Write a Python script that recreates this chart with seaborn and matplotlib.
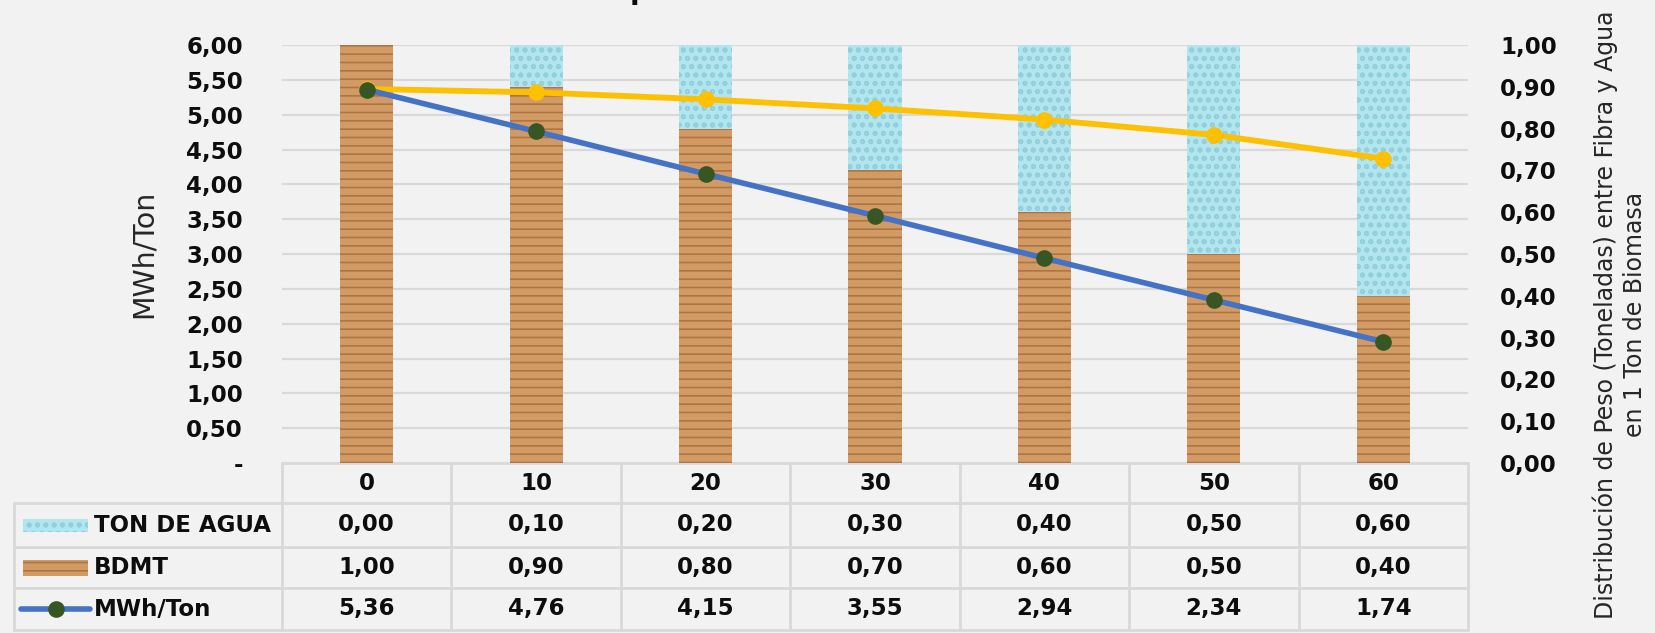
import numpy as np
import matplotlib
matplotlib.use('Agg')
from matplotlib import pyplot as plt
from matplotlib.patches import Rectangle
from matplotlib.lines import Line2D
from matplotlib.ticker import FixedLocator, FuncFormatter
import matplotlib.transforms as mtransforms
import seaborn as sns

categories = ['0', '10', '20', '30', '40', '50', '60']
ton_agua = [0.00, 0.10, 0.20, 0.30, 0.40, 0.50, 0.60]
bdmt = [1.00, 0.90, 0.80, 0.70, 0.60, 0.50, 0.40]
mwh_ton = [5.36, 4.76, 4.15, 3.55, 2.94, 2.34, 1.74]
# yellow series has no row in the table
mwh_ton_b = [5.37, 5.32, 5.22, 5.09, 4.93, 4.71, 4.37]

row_names = ['TON DE AGUA', 'BDMT', 'MWh/Ton']
title = 'por contenido de Humedad'
left_label = 'MWh/Ton'
right_label = 'Distribución de Peso (Toneladas) entre Fibra y Agua\nen 1 Ton de Biomasa'

BG = '#F2F2F2'
GRID = '#D9D9D9'
WOOD = '#D29B66'
WOOD_HATCH = '#B07444'
WATER = '#B3E5EE'
WATER_HATCH = '#92CFDB'
BLUE = '#4472C4'
GREEN = '#375623'
GOLD = '#FFC000'
FS = 16.5


def fmt(v):
    return f'{v:.2f}'.replace('.', ',')


sns.set_theme(style='white')
plt.rcParams['font.family'] = ['DejaVu Sans']
plt.rcParams['hatch.linewidth'] = 1.2

W, H = 1655, 633
fig = plt.figure(figsize=(W / 100, H / 100), dpi=100, facecolor=BG)
# plot box in pixels: x 282..1468, y 45..463
ax = fig.add_axes([282 / W, 1 - 463 / H, (1468 - 282) / W, (463 - 45) / H])
ax.patch.set_visible(False)

# left axis: gridlines + ticks only
ax.set_ylim(0, 6)
ax.yaxis.set_major_locator(FixedLocator(np.arange(0, 6.01, 0.5)))
ax.yaxis.set_major_formatter(FuncFormatter(lambda v, p: '-' if abs(v) < 1e-9 else fmt(v)))
ax.grid(axis='y', color=GRID, lw=1.6)
ax.tick_params(axis='y', length=0, pad=28, labelsize=FS)
ax.tick_params(axis='x', length=0, labelbottom=False)
ax.set_ylabel(left_label, fontsize=20.5)
ax.yaxis.set_label_coords((158 - 282) / 1186, 0.5)

# bars on the right axis (0..1)
ax2 = ax.twinx()
totals = [a + b for a, b in zip(ton_agua, bdmt)]
sns.barplot(x=categories, y=totals, ax=ax2, color=WATER, saturation=1, width=0.313,
            hatch='oo', edgecolor=WATER_HATCH, linewidth=0)
sns.barplot(x=categories, y=bdmt, ax=ax2, color=WOOD, saturation=1, width=0.313,
            hatch='--', edgecolor=WOOD_HATCH, linewidth=0)
ax2.set_ylim(0, 1)
ax2.yaxis.set_major_locator(FixedLocator(np.arange(0, 1.001, 0.1)))
ax2.yaxis.set_major_formatter(FuncFormatter(lambda v, p: fmt(v)))
ax2.tick_params(axis='y', length=0, pad=23, labelsize=FS)
ax2.tick_params(axis='x', length=0, labelbottom=False)
ax2.set_xlabel('')
ax2.set_ylabel(right_label, fontsize=17, linespacing=1.27)
ax2.yaxis.set_label_coords((1592 - 282) / 1186, 0.355)

# lines on a third layer sharing the left scale
ax3 = ax.twinx()
sns.lineplot(x=np.arange(len(categories)), y=mwh_ton_b, ax=ax3, color=GOLD, lw=4.2,
             marker='o', markersize=12, markeredgewidth=0, markerfacecolor=GOLD)
sns.lineplot(x=np.arange(len(categories)), y=mwh_ton, ax=ax3, color=BLUE, lw=4,
             marker='o', markersize=12, markeredgewidth=0, markerfacecolor=GREEN)
ax3.set_ylim(0, 6)
ax3.set_yticks([])
ax3.set_ylabel('')
ax3.tick_params(axis='x', length=0, labelbottom=False)

for a in (ax, ax2, ax3):
    for s in a.spines.values():
        s.set_visible(False)
ax.set_xlim(-0.5, len(categories) - 0.5)

for lab in ax.get_yticklabels() + ax2.get_yticklabels():
    lab.set_fontweight('bold')
    lab.set_color('#0D0D0D')

# data table under the plot
trans = mtransforms.blended_transform_factory(ax.transData, ax.transAxes)
px_x = 1186 / len(categories)
row_px = [463, 503, 547, 588, 630]
row_y = [(463 - p) / 418 for p in row_px]
x_left = -0.5 - (282 - 14) / px_x
x_right = len(categories) - 0.5


def hline(x0, x1, y):
    ax.add_line(Line2D([x0, x1], [y, y], transform=trans, color=GRID, lw=2, clip_on=False))


def vline(x, y0, y1):
    ax.add_line(Line2D([x, x], [y0, y1], transform=trans, color=GRID, lw=2, clip_on=False))


hline(-0.5, x_right, row_y[0])
for y in row_y[1:]:
    hline(x_left, x_right, y)
for k in range(len(categories) + 1):
    vline(-0.5 + k, row_y[0], row_y[-1])
vline(x_left, row_y[1], row_y[-1])

ymid = [(row_y[i] + row_y[i + 1]) / 2 for i in range(4)]
for i, c in enumerate(categories):
    ax.text(i, ymid[0], c, transform=trans, ha='center', va='center',
            fontsize=FS, fontweight='bold', color='#0D0D0D')
    for r, vals in enumerate([ton_agua, bdmt, mwh_ton]):
        ax.text(i, ymid[r + 1], fmt(vals[i]), transform=trans, ha='center', va='center',
                fontsize=FS, fontweight='bold', color='#0D0D0D')

# row labels with legend keys
sw_x0 = -0.5 + (23 - 282) / px_x
sw_w = 65 / px_x
txt_x = -0.5 + (94 - 282) / px_x
ax.add_patch(Rectangle((sw_x0, ymid[1] - 6.5 / 418), sw_w, 13 / 418, transform=trans,
                       facecolor=WATER, hatch='oo', edgecolor=WATER_HATCH, lw=0, clip_on=False))
ax.add_patch(Rectangle((sw_x0, ymid[2] - 8 / 418), sw_w, 16 / 418, transform=trans,
                       facecolor=WOOD, hatch='--', edgecolor=WOOD_HATCH, lw=0, clip_on=False))
ax.add_line(Line2D([sw_x0 - 2 / px_x, sw_x0 + sw_w + 2 / px_x], [ymid[3], ymid[3]],
                   transform=trans, color=BLUE, lw=4, solid_capstyle='round', clip_on=False))
ax.add_line(Line2D([sw_x0 + sw_w / 2], [ymid[3]], transform=trans, marker='o', markersize=12,
                   markeredgewidth=0, markerfacecolor=GREEN, clip_on=False))
for r, name in enumerate(row_names):
    ax.text(txt_x, ymid[r + 1], name, transform=trans, ha='left', va='center',
            fontsize=FS, fontweight='bold', color='#0D0D0D')

# title, cut off by the top edge like in the source image
fig.text(630 / W, 1 + 1 / H, title, ha='left', va='baseline', fontsize=20,
         fontweight='bold', color='#0D0D0D')

fig.savefig('out.png', dpi=100, facecolor=BG)
